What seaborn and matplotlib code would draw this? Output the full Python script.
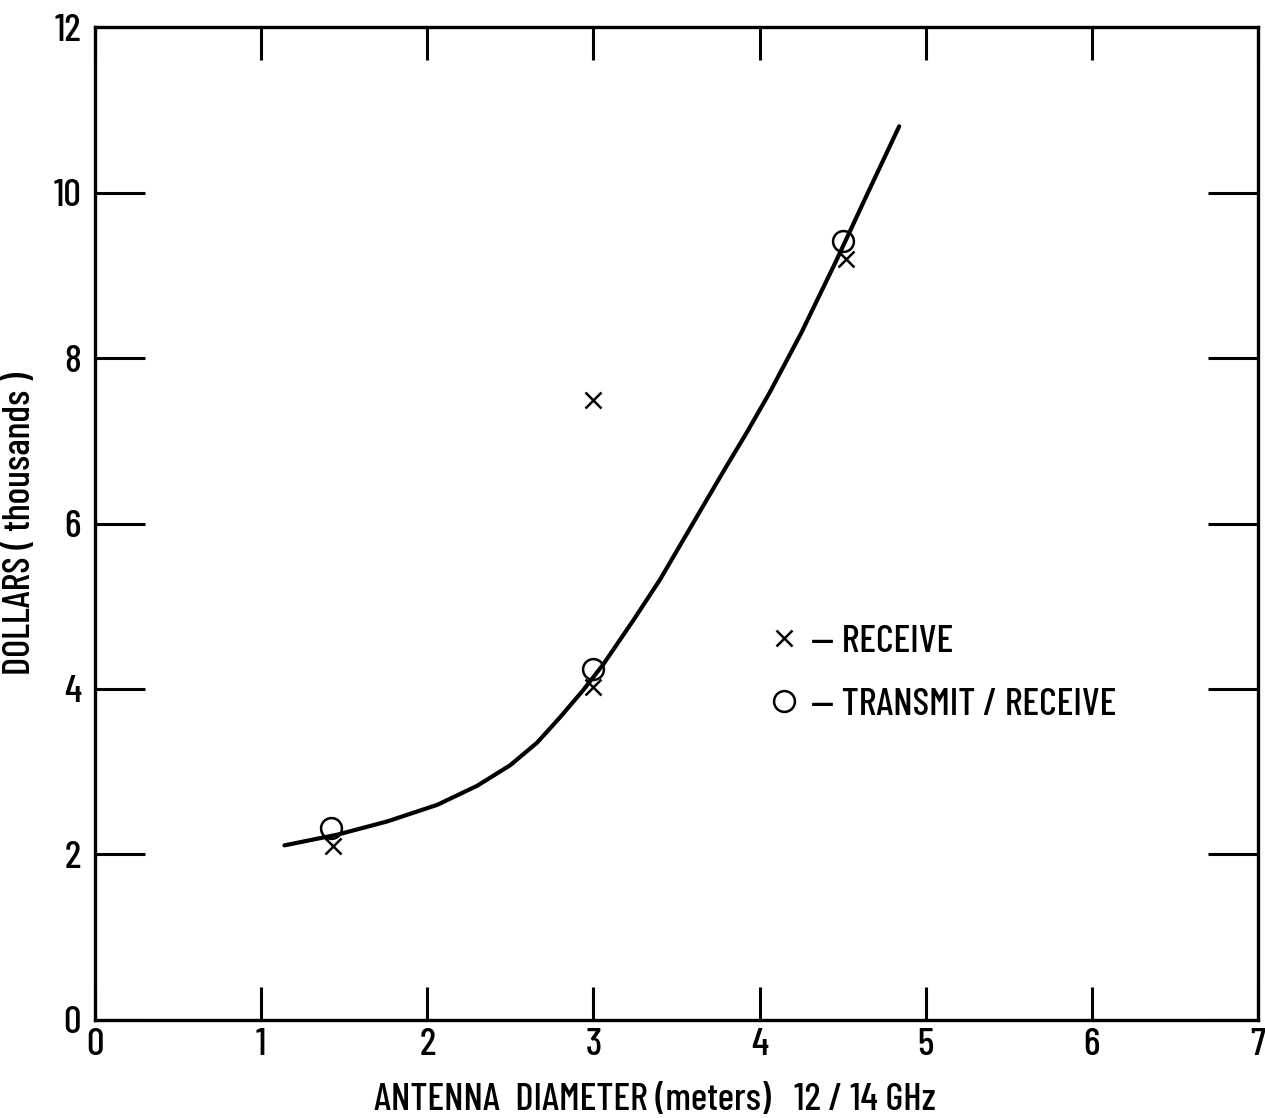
import matplotlib
matplotlib.use("Agg")
import matplotlib.pyplot as plt
import seaborn as sns
import pandas as pd
from matplotlib.lines import Line2D

# ---- data ----
curve_x = [1.14, 1.46, 1.76, 2.06, 2.30, 2.50, 2.66, 2.80, 2.94, 3.06, 3.24, 3.40,
           3.54, 3.68, 3.80, 3.92, 4.06, 4.25, 4.46, 4.65, 4.84]
curve_y = [2.11, 2.24, 2.40, 2.60, 2.83, 3.08, 3.35, 3.66, 3.99, 4.30, 4.83, 5.32,
           5.80, 6.28, 6.69, 7.09, 7.58, 8.30, 9.17, 9.99, 10.80]

receive_x = [1.43, 3.00, 3.00, 4.52]
receive_y = [2.10, 7.49, 4.03, 9.20]

trx_x = [1.42, 3.00, 4.50]
trx_y = [2.32, 4.24, 9.41]

x_ticks = [0, 1, 2, 3, 4, 5, 6, 7]
y_ticks = [0, 2, 4, 6, 8, 10, 12]
x_label = "ANTENNA  DIAMETER (meters)   12 / 14 GHz"
y_label = "DOLLARS ( thousands )"
legend_labels = ["— RECEIVE", "— TRANSMIT / RECEIVE"]

sns.set_theme(style="white")
plt.rcParams["font.family"] = ["Barlow Condensed", "DejaVu Sans"]
plt.rcParams["font.weight"] = 500
plt.rcParams["axes.labelweight"] = 500
plt.rcParams["text.color"] = "black"

FS = 28

fig = plt.figure(figsize=(12.65, 11.18), dpi=100)
ax = fig.add_axes([0.0751, 0.0877, 0.9194, 0.8881])

df_curve = pd.DataFrame({"x": curve_x, "y": curve_y})
sns.lineplot(data=df_curve, x="x", y="y", ax=ax, color="black", linewidth=3.0,
             sort=False, estimator=None)
ax.lines[-1].set_solid_capstyle("round")
ax.lines[-1].set_solid_joinstyle("round")

ax.plot(receive_x, receive_y, linestyle="none", marker="x", markersize=12,
        markeredgewidth=1.8, color="black")
ax.plot(trx_x, trx_y, linestyle="none", marker="o", markersize=15,
        markeredgewidth=1.8, markerfacecolor="none", markeredgecolor="black")

ax.set_xlim(0, 7)
ax.set_ylim(0, 12)
ax.set_xticks(x_ticks)
ax.set_yticks(y_ticks)
ax.set_xticklabels([str(t) for t in x_ticks])
ax.set_yticklabels([str(t) for t in y_ticks])
ax.tick_params(axis="x", direction="in", length=24, width=2.2, top=True, bottom=True,
               labelsize=FS, pad=6, colors="black")
ax.tick_params(axis="y", direction="in", length=36, width=2.2, left=True, right=True,
               labelsize=FS, pad=10, colors="black")
for s in ax.spines.values():
    s.set_visible(True)
    s.set_color("black")
    s.set_linewidth(2.4)

ax.set_xlabel(x_label, fontsize=FS, color="black")
ax.xaxis.set_label_coords(0.4815, -0.063)
ax.set_ylabel(y_label, fontsize=FS, color="black")
ax.yaxis.set_label_coords(-0.050, 0.50)

handles = [
    Line2D([], [], linestyle="none", marker="x", markersize=12, markeredgewidth=1.8, color="black"),
    Line2D([], [], linestyle="none", marker="o", markersize=15, markeredgewidth=1.8,
           markerfacecolor="none", markeredgecolor="black"),
]
leg = ax.legend(handles, legend_labels, loc="upper left", bbox_to_anchor=(0.562, 0.418),
                frameon=False, fontsize=FS, handlelength=0.8, handletextpad=0.3,
                labelspacing=0.75, borderpad=0)
for t in leg.get_texts():
    t.set_color("black")

fig.savefig("out.png", dpi=100, facecolor="white")
